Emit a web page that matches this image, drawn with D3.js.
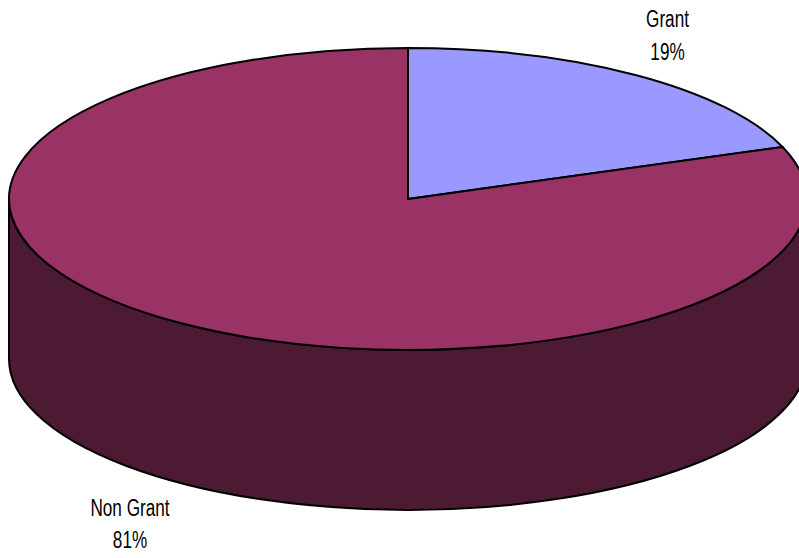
<!DOCTYPE html>
<html lang="en">
	<head>
		<meta charset="utf-8">
		<script src="https://cdn.jsdelivr.net/npm/d3@7"></script>
		<style>
			html, body { margin: 0; padding: 0; background: #fff; overflow: hidden; }
			svg { display: block; }
			text { font-family: "Liberation Sans", Arial, sans-serif; font-size: 23.5px; fill: #000; }
		</style>
	</head>
	<body>
		<script type="text/javascript">

			//slices, clockwise from 12 o'clock
			var labels = ["Grant", "Non Grant"];
			var values = [19.4, 80.6];
			var colors = ["#9999ff", "#993366"];
			var sideColor = "#4d1a33";

			//Width and height
			var w = 799;
			var h = 558;

			//pie ellipse
			var cx = 408, cy = 199;
			var rx = 399, ry = 151;
			var depth = 160;

			var svg = d3.select("body")
				.append("svg")
				.attr("width", w)
				.attr("height", h);

			//side wall first, top sits over it
			var bottom = "M" + (cx - rx) + "," + (cy + depth) +
				"A" + rx + "," + ry + " 0 0 0 " + (cx + rx) + "," + (cy + depth) +
				"L" + (cx + rx) + "," + cy +
				"A" + rx + "," + ry + " 0 0 1 " + (cx - rx) + "," + cy + "Z";
			svg.append("path")
				.attr("d", bottom)
				.attr("fill", sideColor)
				.attr("stroke", "#000")
				.attr("stroke-width", 2);

			//top face: circle pie squashed to an ellipse
			var pie = d3.pie().sort(null);
			var arc = d3.arc().innerRadius(0).outerRadius(rx);

			svg.append("g")
				.attr("transform", "translate(" + cx + "," + cy + ") scale(1," + (ry / rx) + ")")
				.selectAll("path")
				.data(pie(values))
				.enter()
				.append("path")
				.attr("d", arc)
				.attr("fill", (d, i) => colors[i])
				.attr("stroke", "#000")
				.attr("stroke-width", 2)
				.attr("stroke-linejoin", "miter")
				.attr("vector-effect", "non-scaling-stroke");

			//labels, narrow like the original
			var labelPos = [[667.5, 27, 60], [130, 516, 548]];
			labels.forEach(function(name, i) {
				var p = labelPos[i];
				var g = svg.append("g")
					.attr("transform", "translate(" + p[0] + ",0) scale(0.73,1)")
					.attr("text-anchor", "middle");
				g.append("text").attr("y", p[1]).text(name);
				g.append("text").attr("y", p[2]).text(Math.round(values[i]) + "%");
			});

		</script>
	</body>
</html>
